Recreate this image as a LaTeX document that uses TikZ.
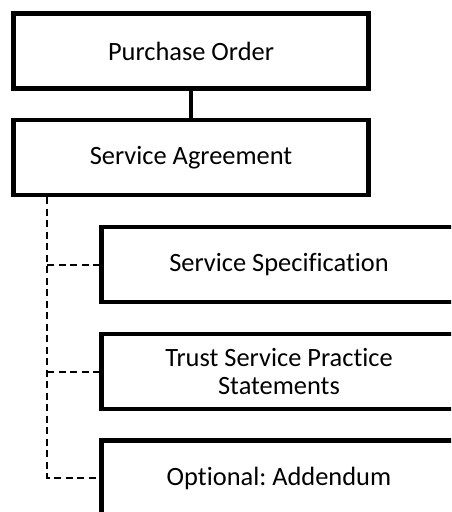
\documentclass[tikz,border=0pt]{standalone}
\usepackage{fontspec}
\setmainfont{Carlito}[Ligatures=NoCommon]
\usepackage{tikz}
\usetikzlibrary{calc}

\begin{document}
\frenchspacing
\begin{tikzpicture}[x=1pt,y=-1pt,
                    doc/.style={draw, line width=4.5pt, minimum width=355pt, minimum height=75pt,
                                inner sep=0pt, align=center, font=\fontsize{26.4}{28}\selectfont},
                    link/.style={line width=4.5pt},
                    optlink/.style={line width=2pt, dash pattern=on 7pt off 4.5pt}]
                    \useasboundingbox (0,0) rectangle (451,512);
                    \clip (0,0) rectangle (451,512);
                    \node[doc] (po) at (191,51) {Purchase Order};
                    \node[doc] (sa) at (191,157.5) {Service Agreement};
                    \node[doc] (spec) at (279,264.5) {Service Specification};
                    \node[doc] (tsps) at (279,371.5) {Trust Service Practice\\Statements};
                    \node[doc] (add) at (279,478) {Optional: Addendum};
                    \draw[link] (po) -- (sa);
                    \coordinate (trunk) at ($(sa.south west)+(36,0)$);
                    \draw[optlink] (trunk) |- (add.west);
                    \draw[optlink] (trunk |- spec.west) -- (spec.west);
                    \draw[optlink] (trunk |- tsps.west) -- (tsps.west);
                \end{tikzpicture}
\end{document}
